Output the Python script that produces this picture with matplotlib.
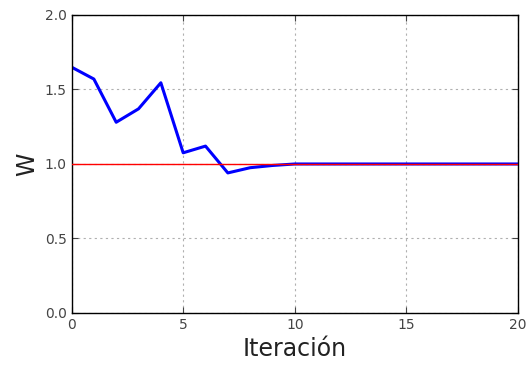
import matplotlib
matplotlib.use("Agg")
import matplotlib.pyplot as plt

iterations = list(range(21))
w_values = [1.65, 1.57, 1.28, 1.37, 1.545, 1.075, 1.12, 0.94, 0.975, 0.99,
            1.0, 1.0, 1.0, 1.0, 1.0, 1.0, 1.0, 1.0, 1.0, 1.0, 1.0]
target = 1.0
x_ticks = [0, 5, 10, 15, 20]
y_ticks = [0.0, 0.5, 1.0, 1.5, 2.0]

fig = plt.figure(figsize=(5.26, 3.65), dpi=100)
ax = fig.add_axes([0.136, 0.1425, 0.849, 0.8165])

ax.plot(iterations, w_values, color="blue", linewidth=2.2, zorder=2)
ax.axhline(target, color="red", linewidth=1.0, zorder=3)

ax.set_xlim(0, 20)
ax.set_ylim(0, 2)
ax.set_xticks(x_ticks)
ax.set_yticks(y_ticks)
ax.set_yticklabels([f"{v:.1f}" for v in y_ticks])
ax.grid(True, linestyle=(0, (2, 3)), color="#b0b0b0", linewidth=0.8)
ax.tick_params(direction="in", length=4, colors="#444444", labelsize=10,
               top=True, right=True)
for sp in ax.spines.values():
    sp.set_color("black")
    sp.set_linewidth(1.0)

ax.set_xlabel("Iteración", fontsize=17, color="#222222")
ax.set_ylabel("W", fontsize=17, color="#222222")

fig.savefig("out.png", dpi=100)
